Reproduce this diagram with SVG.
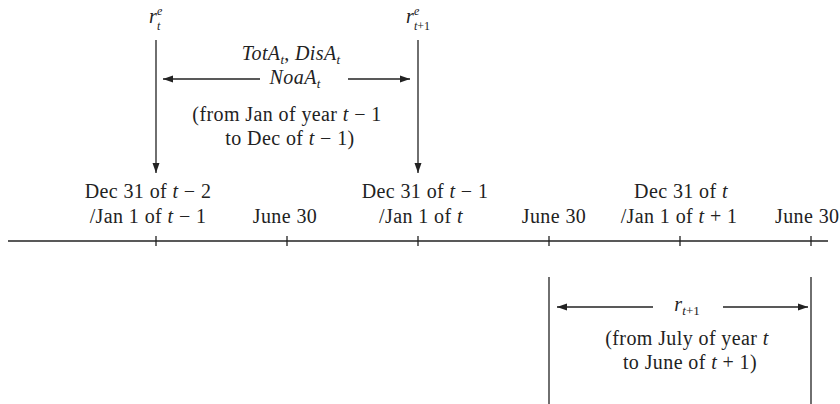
<svg xmlns="http://www.w3.org/2000/svg" width="840" height="404" viewBox="0 0 840 404">
<style>
text{font-family:"Liberation Serif","Times New Roman",serif;font-size:20px;letter-spacing:0.4px;fill:#222}
.m{font-style:italic}
.s{font-size:13px;letter-spacing:0}
.ln{stroke:#222;stroke-width:1.3;fill:none}
</style>
<defs>
<marker id="ah" viewBox="0 0 10 10" refX="10" refY="5" markerWidth="10" markerHeight="10" markerUnits="userSpaceOnUse" orient="auto">
<path d="M0,1.5 L10,5 L0,8.5 Z" fill="#222"/>
</marker>
</defs>
<rect width="840" height="404" fill="#fff"/>
<g id="connectors">
<line class="ln" x1="8" y1="241" x2="828" y2="241"/>
<path class="ln" d="M156,236V246M287,236V246M418,236V246M549,236V246M680,236V246M811,236V246"/>
<line class="ln" x1="156" y1="40" x2="156" y2="173" marker-end="url(#ah)"/>
<line class="ln" x1="418" y1="40" x2="418" y2="173" marker-end="url(#ah)"/>
<line class="ln" x1="260" y1="79" x2="163" y2="79" marker-end="url(#ah)"/>
<line class="ln" x1="348" y1="79" x2="410" y2="79" marker-end="url(#ah)"/>
<line class="ln" x1="549" y1="277" x2="549" y2="404"/>
<line class="ln" x1="811" y1="277" x2="811" y2="404"/>
<line class="ln" x1="653" y1="307" x2="557" y2="307" marker-end="url(#ah)"/>
<line class="ln" x1="723" y1="307" x2="808" y2="307" marker-end="url(#ah)"/>
</g>
<g id="rte">
<text class="m" x="149" y="23">r</text>
<text class="m s" x="157" y="15" style="font-size:12px">e</text>
<text class="m s" x="157" y="30" style="font-size:12px">t</text>
</g>
<g id="rt1e">
<text class="m" x="406" y="23">r</text>
<text class="m s" x="414" y="15" style="font-size:12px">e</text>
<text class="s" x="414" y="30" style="font-size:12px"><tspan class="m">t</tspan>+1</text>
</g>
<g id="accounting">
<text x="291" y="60" text-anchor="middle"><tspan class="m">TotA</tspan><tspan class="m s" dy="4">t</tspan><tspan dy="-4">, </tspan><tspan class="m">DisA</tspan><tspan class="m s" dy="4">t</tspan></text>
<text x="295" y="84" text-anchor="middle"><tspan class="m">NoaA</tspan><tspan class="m s" dy="4">t</tspan></text>
<text x="287" y="121" text-anchor="middle">(from Jan of year <tspan class="m">t</tspan> − 1</text>
<text x="290" y="145" text-anchor="middle">to Dec of <tspan class="m">t</tspan> − 1)</text>
</g>
<g id="axis-labels">
<text x="148" y="198" text-anchor="middle">Dec 31 of <tspan class="m">t</tspan> − 2</text>
<text x="148" y="223" text-anchor="middle">/Jan 1 of <tspan class="m">t</tspan> − 1</text>
<text x="285" y="223" text-anchor="middle">June 30</text>
<text x="425" y="198" text-anchor="middle">Dec 31 of <tspan class="m">t</tspan> − 1</text>
<text x="421" y="223" text-anchor="middle">/Jan 1 of <tspan class="m">t</tspan></text>
<text x="554" y="223" text-anchor="middle">June 30</text>
<text x="681" y="198" text-anchor="middle">Dec 31 of <tspan class="m">t</tspan></text>
<text x="679" y="223" text-anchor="middle">/Jan 1 of <tspan class="m">t</tspan> + 1</text>
<text x="775" y="223">June 30</text>
</g>
<g id="returns">
<text x="687" y="311" text-anchor="middle"><tspan class="m">r</tspan><tspan class="s" dy="4"><tspan class="m">t</tspan>+1</tspan></text>
<text x="687" y="345" text-anchor="middle">(from July of year <tspan class="m">t</tspan></text>
<text x="690" y="369" text-anchor="middle">to June of <tspan class="m">t</tspan> + 1)</text>
</g>
</svg>
